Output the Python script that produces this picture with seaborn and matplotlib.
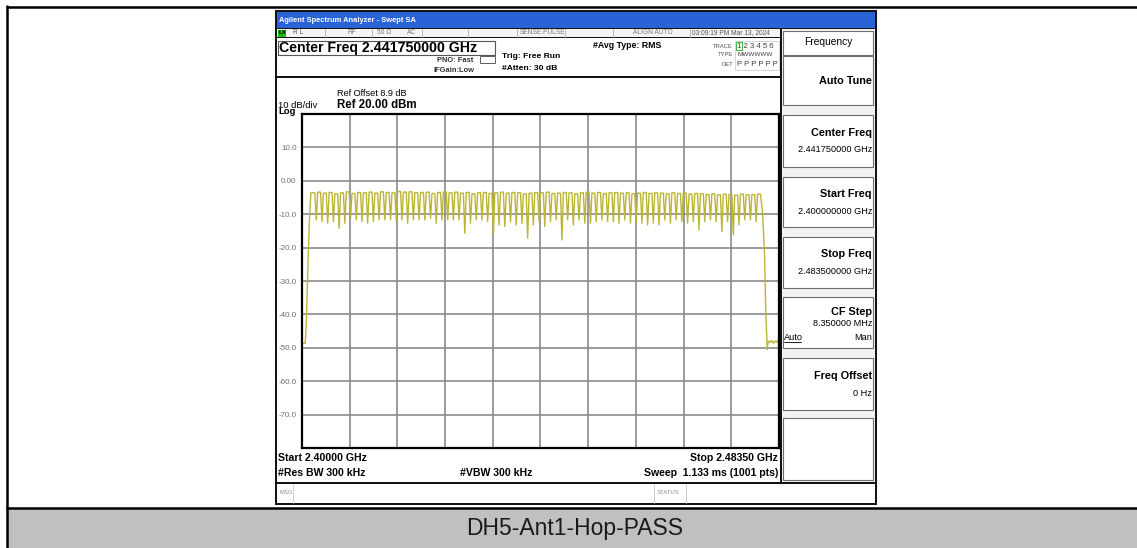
import numpy as np
import pandas as pd
import matplotlib
matplotlib.use("Agg")
import matplotlib.pyplot as plt
from matplotlib.patches import Rectangle
import seaborn as sns

sns.set_style("white")
plt.rcParams['font.family'] = ['Liberation Sans', 'DejaVu Sans']

# sweep settings
start_mhz = 2400.0
stop_mhz = 2483.5
ref_dbm = 20.0
bottom_dbm = -80.0

# hopping channels and the levels (dBm)
channel_mhz = list(range(2402, 2481))
peak_dbm = [-3.6, -3.4, -3.7, -3.5, -3.9, -3.6, -3.3, -3.8, -3.5, -3.6,
            -3.4, -3.7, -3.3, -3.5, -3.6, -3.2, -3.4, -3.3, -3.6, -3.5,
            -3.4, -3.8, -3.5, -3.3, -3.6, -3.4, -3.7, -3.5, -3.9, -3.6,
            -3.5, -3.8, -3.6, -3.4, -3.7, -3.5, -3.6, -3.9, -3.7, -3.5,
            -3.6, -3.4, -3.8, -3.7, -3.5, -3.6, -3.9, -3.6, -3.4, -3.7,
            -3.5, -3.8, -3.6, -3.5, -3.7, -3.6, -3.9, -3.7, -3.5, -3.8,
            -3.6, -3.7, -3.9, -3.6, -3.8, -3.7, -4.0, -3.8, -3.9, -4.1,
            -3.9, -4.2, -4.0, -4.1, -4.3, -4.0, -4.2, -4.1, -4.0]
dip_dbm = [-11.7, -12.2, -12.7, -12.2, -14.2, -12.7, -11.2, -11.7, -12.2, -12.7,
           -12.2, -11.7, -11.7, -11.7, -11.7, -11.7, -12.7, -11.7, -11.7, -11.7,
           -11.2, -12.7, -11.7, -11.7, -11.7, -11.7, -15.7, -12.7, -11.7, -11.7,
           -12.2, -16.2, -13.2, -13.7, -12.2, -13.2, -12.7, -17.2, -13.2, -12.2,
           -13.7, -12.2, -11.7, -17.7, -11.7, -13.2, -11.7, -12.7, -12.7, -12.2,
           -11.7, -12.2, -12.2, -12.7, -11.7, -12.7, -12.2, -12.7, -13.2, -12.7,
           -13.2, -11.7, -12.7, -11.7, -12.2, -12.7, -12.2, -14.7, -12.2, -11.7,
           -12.2, -15.2, -12.2, -16.2, -13.2, -11.7, -11.7, -12.2]
left_skirt_mhz = [2400.0, 2400.55, 2400.65, 2400.8, 2401.1, 2401.3, 2401.55]
left_skirt_dbm = [-48.7, -48.7, -46.0, -40.0, -22.0, -12.0, -3.6]
right_skirt_mhz = [2480.6, 2480.95, 2481.2, 2481.45, 2481.6, 2481.9, 2482.2,
                   2482.5, 2482.8, 2483.1, 2483.3, 2483.5]
right_skirt_dbm = [-9.0, -21.0, -40.0, -50.5, -48.0, -48.4, -47.8,
                   -48.6, -48.0, -48.4, -47.7, -48.2]

ytick_vals = [20, 10, 0, -10, -20, -30, -40, -50, -60, -70, -80]
ytick_text = ['', '10.0', '0.00', '-10.0', '-20.0', '-30.0', '-40.0',
              '-50.0', '-60.0', '-70.0', '']

# build the trace polyline
freq = list(left_skirt_mhz)
level = list(left_skirt_dbm)
for i, c in enumerate(channel_mhz):
    freq += [c - 0.25, c + 0.25]
    level += [peak_dbm[i], peak_dbm[i]]
    if i < len(dip_dbm):
        freq.append(c + 0.5)
        level.append(dip_dbm[i])
freq += right_skirt_mhz
level += right_skirt_dbm
trace = pd.DataFrame({'freq_mhz': freq, 'level_dbm': level})

W, H = 1137, 548
fig = plt.figure(figsize=(W / 100, H / 100), dpi=100)
bg = fig.add_axes([0, 0, 1, 1], zorder=0)
bg.set_xlim(0, W)
bg.set_ylim(H, 0)
bg.axis('off')


def box(x0, y0, x1, y1, fc='white', ec='none', lw=0.0, z=1):
    bg.add_patch(Rectangle((x0, y0), x1 - x0, y1 - y0, facecolor=fc,
                           edgecolor=ec, linewidth=lw, zorder=z))


def txt(x, y, s, size=7, weight='normal', ha='left', color='black', **kw):
    bg.text(x, y, s, fontsize=size, fontweight=weight, ha=ha, va='center',
            color=color, zorder=5, **kw)


# outer table
bg.plot([7, W], [7, 7], color='black', lw=1.8, zorder=3)
bg.plot([7, 7], [6, H], color='black', lw=1.8, zorder=3)
bg.plot([7, W], [508, 508], color='black', lw=1.8, zorder=3)
box(8, 509, W, H, fc='#c0c0c0')
txt(575, 529, 'DH5-Ant1-Hop-PASS', size=16.5, ha='center', color='#1a1a1a')

# analyzer screenshot frame
box(275, 10, 877, 505, fc='#141414')
box(277, 12, 875, 28, fc='#2a62d8')
txt(279, 20, 'Agilent Spectrum Analyzer - Swept SA', size=5.4, weight='bold', color='white')

# status row
box(277, 29, 780, 37, fc='#f4f4f4')
for xs in [325, 372, 422, 468, 517, 565, 613, 690]:
    bg.plot([xs, xs], [29, 37], color='#b0b0b0', lw=0.6, zorder=2)
box(278, 29.5, 286, 36.5, fc='#10c010')
txt(279, 33, 'LX', size=4.5, weight='bold')
gray_small = '#7a7a7a'
txt(293, 33, 'R L', size=4.8, color='#555555')
txt(347, 33, 'RF', size=4.8, color=gray_small)
txt(377, 33, '50 Ω', size=4.8, color=gray_small)
txt(407, 33, 'AC', size=4.8, color=gray_small)
txt(520, 33, 'SENSE:PULSE', size=4.8, color=gray_small)
txt(633, 33, 'ALIGN AUTO', size=4.8, color=gray_small)
txt(692, 33, '03:09:19 PM Mar 13, 2024', size=4.8, color='#555555')

# header area
box(277, 38, 780, 76, fc='white')
box(277.5, 41, 495, 55, fc='white', ec='#555555', lw=0.8, z=2)
txt(279, 48, 'Center Freq 2.441750000 GHz', size=10.2, weight='bold')
txt(437, 60, 'PNO: Fast', size=5.4, weight='bold', color='#333333')
txt(433, 70, 'IFGain:Low', size=5.4, weight='bold', color='#333333')
box(480, 56, 495, 63, fc='white', ec='#444444', lw=0.6, z=2)
txt(502, 57, 'Trig: Free Run', size=6.1, weight='bold')
txt(502, 69, '#Atten: 30 dB', size=6.1, weight='bold')
txt(593, 45, '#Avg Type: RMS', size=6.3, weight='bold')
box(735, 41, 779, 70, fc='white', ec='#cfcfcf', lw=0.6, z=2)
box(736, 42, 742, 50, fc='white', ec='#20b020', lw=0.6, z=3)
txt(733, 46, 'TRACE', size=4.2, ha='right', color='#555555')
txt(733, 55, 'TYPE', size=4.2, ha='right', color='#555555')
txt(733, 65, 'DET', size=4.2, ha='right', color='#555555')
txt(737, 46, '1 2 3 4 5 6', size=5.6, color='#404040')
txt(737, 55, 'MWWWWW', size=4.6, color='#404040')
txt(737, 65, 'P P P P P P', size=5.6, color='#404040')

# plot panel
box(277, 78, 780, 482, fc='white')
txt(337, 94, 'Ref Offset 8.9 dB', size=6.6)
txt(337, 105, 'Ref 20.00 dBm', size=8.3, weight='bold')
txt(278, 105, '10 dB/div', size=6.8)
txt(278, 112, 'Log', size=6.8, weight='bold')
txt(278, 458, 'Start 2.40000 GHz', size=7.6, weight='bold')
txt(778, 458, 'Stop 2.48350 GHz', size=7.6, weight='bold', ha='right')
txt(278, 473, '#Res BW 300 kHz', size=7.6, weight='bold')
txt(460, 473, '#VBW 300 kHz', size=7.6, weight='bold')
txt(778, 473, 'Sweep  1.133 ms (1001 pts)', size=7.6, weight='bold', ha='right')

# message row
box(277, 484, 875, 503, fc='white')
for xs in [293, 654, 686]:
    bg.plot([xs, xs], [484, 503], color='#c8c8c8', lw=0.6, zorder=2)
txt(279, 493, 'MSG', size=4.2, color='#8a8a8a')
txt(657, 493, 'STATUS', size=4.2, color='#8a8a8a')

# softkey panel
box(782, 29, 875, 482, fc='#f2f2f2')
softkeys = [(31, 55), (56, 105), (115, 167), (177, 227),
            (237, 288), (297, 348), (358, 410), (418, 480)]
for y0, y1 in softkeys:
    box(783, y0, 873, y1, fc='white', ec='#6e6e6e', lw=0.8, z=2)
txt(828, 42, 'Frequency', size=7.4, ha='center')
txt(872, 81, 'Auto Tune', size=7.8, weight='bold', ha='right')
txt(872, 133, 'Center Freq', size=7.8, weight='bold', ha='right')
txt(872, 150, '2.441750000 GHz', size=6.6, ha='right')
txt(872, 194, 'Start Freq', size=7.8, weight='bold', ha='right')
txt(872, 211, '2.400000000 GHz', size=6.6, ha='right')
txt(872, 254, 'Stop Freq', size=7.8, weight='bold', ha='right')
txt(872, 271, '2.483500000 GHz', size=6.6, ha='right')
txt(872, 312, 'CF Step', size=7.8, weight='bold', ha='right')
txt(872, 324, '8.350000 MHz', size=6.6, ha='right')
txt(784, 337, 'Auto', size=6.6)
bg.plot([784, 801], [341.5, 341.5], color='black', lw=0.6, zorder=5)
txt(872, 337, 'Man', size=6.6, ha='right')
txt(872, 376, 'Freq Offset', size=7.8, weight='bold', ha='right')
txt(872, 393, '0 Hz', size=6.6, ha='right')

# graticule
gx0, gy0, gx1, gy1 = 302, 114, 779, 448
ax = fig.add_axes([gx0 / W, 1 - gy1 / H, (gx1 - gx0) / W, (gy1 - gy0) / H], zorder=2)
ax.set_facecolor('white')
sns.lineplot(data=trace, x='freq_mhz', y='level_dbm', ax=ax, sort=False,
             estimator=None, color='#bcb534', lw=1.0)
ax.set_xlim(start_mhz, stop_mhz)
ax.set_ylim(bottom_dbm, ref_dbm)
ax.set_xticks(np.linspace(start_mhz, stop_mhz, 11))
ax.set_xticklabels([])
ax.set_yticks(ytick_vals)
ax.set_yticklabels(ytick_text)
ax.tick_params(axis='both', length=0)
ax.tick_params(axis='y', pad=4, labelsize=5.8, labelcolor='#707070')
ax.grid(True, color='#8a8a8a', lw=1.2)
ax.set_axisbelow(True)
ax.set_xlabel('')
ax.set_ylabel('')
for sp in ax.spines.values():
    sp.set_visible(True)
    sp.set_color('black')
    sp.set_linewidth(1.6)

fig.savefig('out.png', dpi=100)
